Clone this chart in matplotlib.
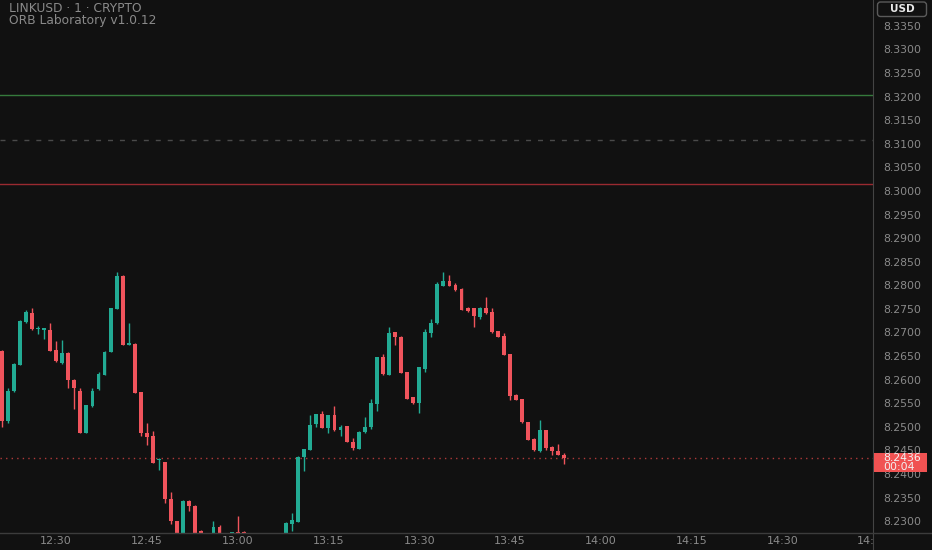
import numpy as np
import matplotlib
matplotlib.use('Agg')
import matplotlib.pyplot as plt
from matplotlib.patches import Rectangle, FancyBboxPatch
from matplotlib.lines import Line2D
from matplotlib.transforms import blended_transform_factory, IdentityTransform

# 1-minute LINKUSD candles, first one at 12:21
start_time = '12:21'
opens = [8.2663, 8.2514, 8.2578, 8.2634, 8.2724, 8.2744, 8.2709, 8.2707, 8.2708, 8.2665,
         8.2637, 8.2659, 8.2601, 8.2579, 8.2490, 8.2547, 8.2582, 8.2613, 8.2661, 8.2752,
         8.2822, 8.2676, 8.2678, 8.2575, 8.2489, 8.2482, 8.2432, 8.2427, 8.2350, 8.2302,
         8.2268, 8.2345, 8.2335, 8.2282, 8.2276, 8.2272, 8.2289, 8.2274, 8.2270, 8.2279,
         8.2280, 8.2272, 8.2262, 8.2255, 8.2262, 8.2268, 8.2264, 8.2272, 8.2297, 8.2301,
         8.2439, 8.2454, 8.2508, 8.2530, 8.2499, 8.2527, 8.2495, 8.2503, 8.2470, 8.2456,
         8.2491, 8.2501, 8.2550, 8.2651, 8.2613, 8.2703, 8.2693, 8.2618, 8.2565, 8.2552,
         8.2625, 8.2702, 8.2722, 8.2801, 8.2811, 8.2802, 8.2795, 8.2755, 8.2753, 8.2735,
         8.2753, 8.2745, 8.2705, 8.2695, 8.2656, 8.2569, 8.2561, 8.2512, 8.2477, 8.2451,
         8.2495, 8.2460, 8.2451, 8.2442]
highs = [8.2665, 8.2584, 8.2637, 8.2728, 8.2750, 8.2753, 8.2715, 8.2712, 8.2722, 8.2684,
         8.2686, 8.2661, 8.2603, 8.2584, 8.2549, 8.2584, 8.2618, 8.2663, 8.2755, 8.2830,
         8.2824, 8.2723, 8.2679, 8.2576, 8.2511, 8.2493, 8.2436, 8.2428, 8.2363, 8.2303,
         8.2346, 8.2346, 8.2336, 8.2283, 8.2276, 8.2302, 8.2295, 8.2276, 8.2280, 8.2313,
         8.2281, 8.2276, 8.2270, 8.2266, 8.2272, 8.2275, 8.2276, 8.2300, 8.2320, 8.2440,
         8.2456, 8.2527, 8.2530, 8.2536, 8.2528, 8.2546, 8.2506, 8.2504, 8.2478, 8.2493,
         8.2522, 8.2562, 8.2651, 8.2656, 8.2714, 8.2704, 8.2694, 8.2619, 8.2566, 8.2629,
         8.2709, 8.2730, 8.2809, 8.2831, 8.2824, 8.2806, 8.2796, 8.2757, 8.2754, 8.2757,
         8.2777, 8.2753, 8.2705, 8.2700, 8.2657, 8.2572, 8.2562, 8.2513, 8.2479, 8.2516,
         8.2496, 8.2461, 8.2465, 8.2446]
lows = [8.2502, 8.2511, 8.2576, 8.2633, 8.2722, 8.2707, 8.2699, 8.2688, 8.2662, 8.2640,
        8.2635, 8.2585, 8.2539, 8.2489, 8.2489, 8.2545, 8.2580, 8.2612, 8.2660, 8.2752,
        8.2676, 8.2675, 8.2574, 8.2483, 8.2463, 8.2425, 8.2410, 8.2340, 8.2297, 8.2265,
        8.2262, 8.2324, 8.2270, 8.2270, 8.2262, 8.2268, 8.2268, 8.2262, 8.2265, 8.2265,
        8.2265, 8.2258, 8.2250, 8.2248, 8.2256, 8.2260, 8.2259, 8.2268, 8.2282, 8.2300,
        8.2409, 8.2453, 8.2502, 8.2499, 8.2489, 8.2494, 8.2482, 8.2469, 8.2454, 8.2456,
        8.2490, 8.2497, 8.2536, 8.2613, 8.2612, 8.2675, 8.2616, 8.2561, 8.2551, 8.2532,
        8.2618, 8.2693, 8.2721, 8.2801, 8.2800, 8.2790, 8.2749, 8.2745, 8.2714, 8.2731,
        8.2742, 8.2702, 8.2693, 8.2655, 8.2560, 8.2559, 8.2511, 8.2474, 8.2451, 8.2449,
        8.2453, 8.2442, 8.2442, 8.2423]
closes = [8.2514, 8.2579, 8.2635, 8.2726, 8.2745, 8.2709, 8.2711, 8.2711, 8.2663, 8.2641,
          8.2659, 8.2601, 8.2584, 8.2490, 8.2548, 8.2579, 8.2614, 8.2661, 8.2753, 8.2822,
          8.2676, 8.2679, 8.2574, 8.2488, 8.2481, 8.2426, 8.2434, 8.2349, 8.2302, 8.2270,
          8.2345, 8.2334, 8.2275, 8.2276, 8.2270, 8.2290, 8.2274, 8.2270, 8.2279, 8.2270,
          8.2272, 8.2262, 8.2255, 8.2262, 8.2268, 8.2264, 8.2273, 8.2299, 8.2304, 8.2439,
          8.2455, 8.2505, 8.2529, 8.2500, 8.2527, 8.2495, 8.2502, 8.2470, 8.2457, 8.2492,
          8.2502, 8.2552, 8.2650, 8.2614, 8.2702, 8.2692, 8.2617, 8.2562, 8.2552, 8.2628,
          8.2703, 8.2722, 8.2805, 8.2812, 8.2801, 8.2792, 8.2750, 8.2748, 8.2736, 8.2754,
          8.2743, 8.2703, 8.2693, 8.2655, 8.2567, 8.2560, 8.2512, 8.2475, 8.2452, 8.2495,
          8.2458, 8.2451, 8.2442, 8.2436]

# ORB levels
orb_high = 8.3206
orb_mid = 8.3111
orb_low = 8.3017

time_labels = ['12:30', '12:45', '13:00', '13:15', '13:30', '13:45', '14:00', '14:15', '14:30', '14:45']
price_ticks = [8.3350, 8.3300, 8.3250, 8.3200, 8.3150, 8.3100, 8.3050, 8.3000, 8.2950, 8.2900,
               8.2850, 8.2800, 8.2750, 8.2700, 8.2650, 8.2600, 8.2550, 8.2500, 8.2450, 8.2400,
               8.2350, 8.2300]
countdown = '00:04'

bg = '#111111'
up_col = '#22ab94'
dn_col = '#f0545c'
txt_col = '#8a8a8a'


def to_min(s):
    h, m = s.split(':')
    return int(h) * 60 + int(m)


o = np.array(opens); h = np.array(highs); l = np.array(lows); c = np.array(closes)
x = np.arange(len(o))
cols = np.where(c >= o, up_col, dn_col)

W, H = 932, 550
fig = plt.figure(figsize=(W / 100, H / 100), dpi=100, facecolor=bg)
ax = fig.add_axes([0, 17 / H, 873 / W, 533 / H], facecolor=bg)

ax.vlines(x, l, h, colors=cols, linewidth=1, zorder=2)
body_lo = np.minimum(o, c)
body_h = np.maximum(np.abs(c - o), 0.00008)
ax.bar(x, body_h, bottom=body_lo, width=0.64, color=cols, linewidth=0, zorder=3)

ax.axhline(orb_high, color='#357a3c', linewidth=1, zorder=1)
ax.axhline(orb_mid, color='#4a4a4a', linewidth=1, linestyle=(0, (3.6, 5)), zorder=1)
ax.axhline(orb_low, color='#9a2a30', linewidth=1, zorder=1)
last = closes[-1]
ax.axhline(last, color='#b03a3a', linewidth=1, linestyle=(0, (1, 3)), zorder=1)

ax.set_xlim(-0.28, 144.0)
ax.set_ylim(8.2277, 8.3407)
t0 = to_min(start_time)
ax.set_xticks([to_min(t) - t0 for t in time_labels])
ax.set_xticklabels(time_labels)
ax.set_yticks([])
ax.tick_params(axis='x', length=0, pad=2.5, colors=txt_col, labelsize=8)
for s in ax.spines.values():
    s.set_visible(False)

ax.text(9 / 873, 1 - 9 / 533, 'LINKUSD · 1 · CRYPTO', transform=ax.transAxes,
        color=txt_col, fontsize=8.8, va='center', ha='left')
ax.text(9 / 873, 1 - 20.5 / 533, 'ORB Laboratory v1.0.12', transform=ax.transAxes,
        color=txt_col, fontsize=8.8, va='center', ha='left')

# price scale on the right
pax = fig.add_axes([873 / W, 0, 59 / W, 1], facecolor=bg)
ymin, ymax = 8.2241, 8.3407
pax.set_ylim(ymin, ymax)
pax.set_xlim(0, 1)
pax.set_xticks([]); pax.set_yticks([])
for k, s in pax.spines.items():
    s.set_visible(k == 'left')
pax.spines['left'].set_color('#444444')
for p in price_ticks:
    pax.text(0.17, p, f'{p:.4f}', color=txt_col, fontsize=7.8, va='center', ha='left')

ppx = (ymax - ymin) / H
tr = blended_transform_factory(pax.transAxes, pax.transData)
pax.add_patch(Rectangle((0.02, last - 13.7 * ppx), 0.9, 18.4 * ppx, transform=tr,
                        facecolor='#f05252', edgecolor='none', zorder=5))
pax.text(0.17, last, f'{last:.4f}', color='#f2f2f2', fontsize=7.8, va='center', ha='left', zorder=6)
pax.text(0.17, last - 9 * ppx, countdown, color='#f2f2f2', fontsize=7.8, va='center', ha='left', zorder=6)

# currency box, in pixel coordinates
usd_box = FancyBboxPatch((877.5, H - 16.5), 49, 14.5, transform=IdentityTransform(),
                         boxstyle='round,pad=0,rounding_size=3', facecolor=bg,
                         edgecolor='#5a5a5a', linewidth=1, zorder=5, clip_on=False)
pax.add_artist(usd_box)
pax.text(29 / 59, 1 - 9.3 / H, 'USD', transform=pax.transAxes, color='#e8e8e8',
         fontsize=7.5, fontweight='bold', va='center', ha='center', zorder=6)

fig.add_artist(Line2D([0, 1], [17 / H, 17 / H], transform=fig.transFigure, color='#3c3c3c', linewidth=1))

fig.savefig('out.png', dpi=100, facecolor=bg)
